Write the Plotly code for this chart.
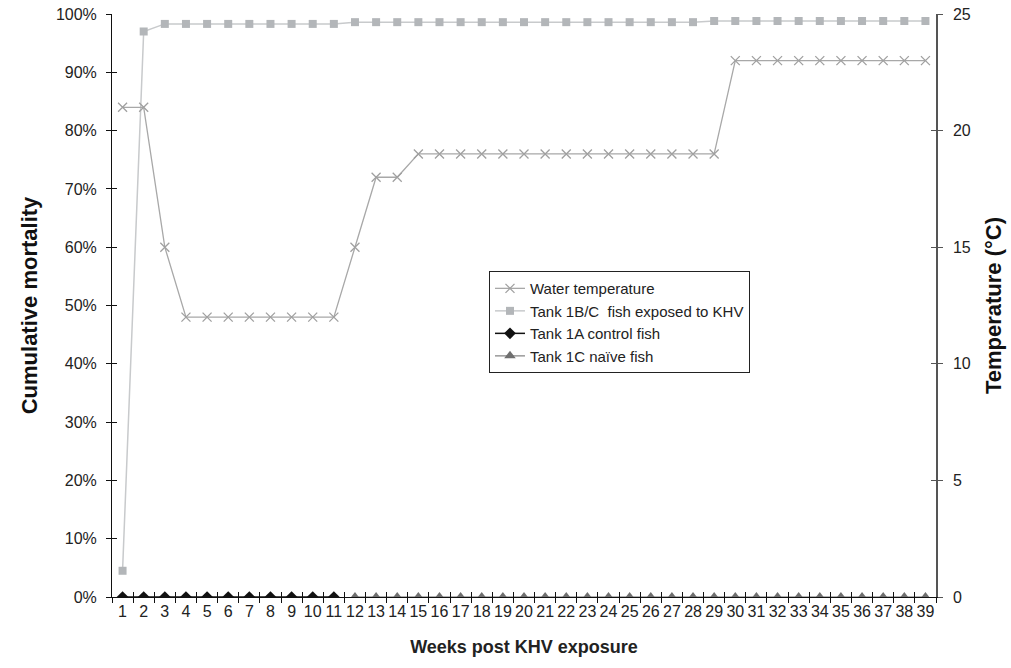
import plotly.graph_objects as go

weeks = list(range(1, 40))
week_labels = [str(w) for w in weeks]

# Water temperature (°C), right axis
water_temp = [21, 21, 15, 12, 12, 12, 12, 12, 12, 12, 12, 15, 18, 18,
              19, 19, 19, 19, 19, 19, 19, 19, 19, 19, 19, 19, 19, 19, 19,
              23, 23, 23, 23, 23, 23, 23, 23, 23, 23]

# Cumulative mortality (fraction)
tank_1bc = [0.045, 0.97] + [0.983] * 9 + [0.986] * 17 + [0.988] * 11
tank_1a_weeks = list(range(1, 12))
tank_1a = [0.0] * 11
tank_1c_weeks = list(range(12, 40))
tank_1c = [0.0] * 28

mort_ticks = [i / 10 for i in range(11)]
temp_ticks = [0, 5, 10, 15, 20, 25]
boundaries = [w + 0.5 for w in range(0, 40)]

FONT = "Liberation Sans, Arial, Helvetica, sans-serif"

fig = go.Figure()

fig.add_trace(go.Scatter(
    x=weeks, y=water_temp, name="Water temperature", yaxis="y2",
    mode="lines+markers",
    line=dict(color="#a8a8a8", width=1.3),
    marker=dict(symbol="x-thin", size=9, line=dict(color="#a0a0a0", width=1.3)),
))
fig.add_trace(go.Scatter(
    x=weeks, y=tank_1bc, name="Tank 1B/C\u00a0 fish exposed to KHV",
    mode="lines+markers",
    line=dict(color="#c8cacc", width=1.5),
    marker=dict(symbol="square", size=8, color="#b3b6b9"),
))
fig.add_trace(go.Scatter(
    x=tank_1a_weeks, y=tank_1a, name="Tank 1A control fish",
    mode="lines+markers",
    line=dict(color="#111111", width=1.5),
    marker=dict(symbol="diamond", size=9, color="#111111"),
))
fig.add_trace(go.Scatter(
    x=tank_1c_weeks, y=tank_1c, name="Tank 1C naïve fish",
    mode="lines+markers",
    line=dict(color="#999999", width=1.5),
    marker=dict(symbol="triangle-up", size=10, color="#6f6f6f"),
))

tickfont = dict(family=FONT, size=16, color="#222222")

fig.update_layout(
    width=1011, height=668,
    margin=dict(l=112, r=75, t=14, b=71),
    paper_bgcolor="white", plot_bgcolor="white",
    font=dict(family=FONT, size=15, color="#222222"),
    showlegend=True,
    legend=dict(
        x=0.4575, y=0.559, xanchor="left", yanchor="top",
        bgcolor="white", bordercolor="#222222", borderwidth=1,
        font=dict(family=FONT, size=15, color="#222222"),
        itemwidth=30, tracegroupgap=0,
    ),
    xaxis=dict(
        range=[0.5, 39.5], tickmode="array", tickvals=weeks, ticktext=week_labels,
        ticks="", showgrid=False, zeroline=False, automargin=False,
        ticklabeloverflow="allow",
        showline=True, linecolor="#111111", linewidth=1,
        tickfont=tickfont,
        minor=dict(tickmode="array", tickvals=boundaries, ticks="outside",
                   ticklen=5, tickcolor="#111111", tickwidth=1, showgrid=False),
        title=dict(text="<b>Weeks post KHV exposure</b>",
                   font=dict(family=FONT, size=18, color="#222222"), standoff=21),
    ),
    xaxis2=dict(
        overlaying="x", matches="x", anchor="y", range=[0.5, 39.5],
        tickmode="array", tickvals=boundaries, ticks="inside", ticklen=5,
        tickcolor="#111111", showticklabels=False, showgrid=False,
        zeroline=False, showline=False,
    ),
    yaxis=dict(
        range=[0, 1], tickmode="array", tickvals=mort_ticks, tickformat=".0%",
        ticks="outside", ticklen=5, tickcolor="#111111", automargin=False,
        ticklabelstandoff=6, ticklabeloverflow="allow",
        showgrid=False, zeroline=False,
        showline=True, linecolor="#111111", linewidth=1,
        tickfont=tickfont,
        title=dict(text="<b>Cumulative mortality</b>",
                   font=dict(family=FONT, size=22, color="#111111"), standoff=12),
    ),
    yaxis3=dict(
        overlaying="y", matches="y", anchor="x", range=[0, 1],
        tickmode="array", tickvals=mort_ticks, ticks="inside", ticklen=5,
        tickcolor="#111111", showticklabels=False, showgrid=False,
        zeroline=False, showline=False,
    ),
    yaxis2=dict(
        overlaying="y", side="right", anchor="x", range=[0, 25],
        tickmode="array", tickvals=temp_ticks, automargin=False,
        ticks="outside", ticklen=5, tickcolor="#555555", ticklabelstandoff=7,
        ticklabeloverflow="allow",
        showgrid=False, zeroline=False,
        showline=True, linecolor="#555555", linewidth=1.5,
        tickfont=tickfont,
        title=dict(text="<b>Temperature (°C)</b>",
                   font=dict(family=FONT, size=22, color="#111111"), standoff=16),
    ),
    yaxis4=dict(
        overlaying="y", side="right", anchor="x", range=[0, 25],
        tickmode="array", tickvals=temp_ticks, ticks="inside", ticklen=5,
        tickcolor="#555555", showticklabels=False, showgrid=False,
        zeroline=False, showline=False,
    ),
)

# make overlay axes exist (attach invisible helpers)
fig.add_trace(go.Scatter(x=[None], y=[None], xaxis="x2", yaxis="y3",
                         showlegend=False, hoverinfo="skip"))
fig.add_trace(go.Scatter(x=[None], y=[None], xaxis="x2", yaxis="y4",
                         showlegend=False, hoverinfo="skip"))

fig.write_html(
    "out.html",
    config={"displayModeBar": False},
    post_script="document.body.style.margin='0';document.body.style.overflow='hidden';",
)
